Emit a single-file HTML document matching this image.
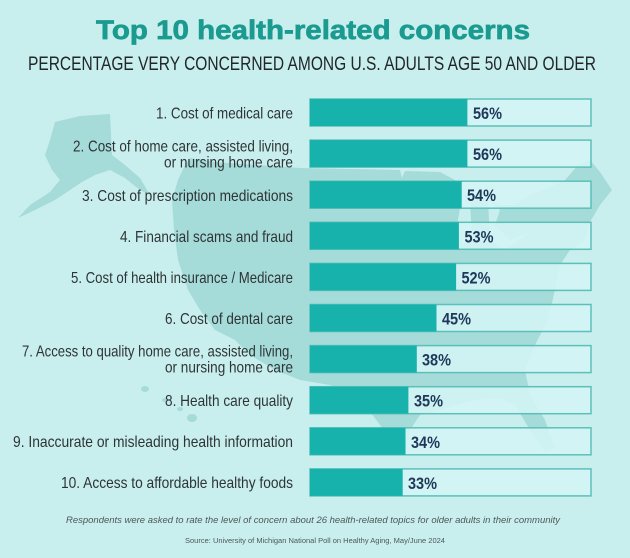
<!DOCTYPE html>
<html>
<head>
<meta charset="utf-8">
<style>
  html,body{margin:0;padding:0;background:#c8efee;}
  svg{display:block;}
  .lbl{font-family:"Liberation Sans",sans-serif;font-size:16px;fill:#2e3435;}
  .pct{font-family:"Liberation Sans",sans-serif;font-size:17px;font-weight:bold;fill:#1d3859;}
</style>
</head>
<body>
<svg width="630" height="558" viewBox="0 0 630 558" xmlns="http://www.w3.org/2000/svg">
  <rect x="0" y="0" width="630" height="558" fill="#c8efee"/>

  <!-- Map silhouette -->
  <g fill="#a5dbd9">
    <polygon points="190,158 215,162 300,168 400,170 402,178 405,171 440,172 455,180 470,190 485,198 500,205 515,205 530,195 548,188 565,180 578,165 590,160 600,172 612,190 600,205 590,222 585,240 570,250 560,265 555,290 548,320 535,345 525,370 530,395 545,420 555,448 545,452 530,430 515,405 500,398 475,400 455,405 440,410 420,415 410,430 405,455 395,445 380,425 365,405 350,395 330,385 300,380 275,370 250,355 235,340 215,330 200,310 188,290 178,260 174,230 172,200 178,180 185,165"/>
    <polygon points="55,122 80,116 110,114 112,155 125,165 140,178 150,195 140,190 125,178 110,170 95,175 82,182 70,190 55,200 35,210 18,218 30,205 50,192 60,180 52,170 45,155 50,140"/>
    <ellipse cx="145" cy="389" rx="4" ry="3"/>
    <ellipse cx="165" cy="400" rx="3" ry="2"/>
    <ellipse cx="180" cy="409" rx="3" ry="2"/>
    <ellipse cx="192" cy="418" rx="5" ry="4"/>
  </g>
  <g fill="#c8efee">
    <polygon points="445,182 490,188 475,198 450,192"/>
    <polygon points="462,195 470,200 472,240 462,245 458,220"/>
    <polygon points="488,200 500,210 495,225 510,240 530,232 505,250 490,240"/>
  </g>

  <!-- Title -->
  <text x="96" y="39" font-family="Liberation Sans, sans-serif" font-size="27" font-weight="bold" fill="#1b9b90" stroke="#1b9b90" stroke-width="0.7" textLength="434" lengthAdjust="spacingAndGlyphs">Top 10 health-related concerns</text>
  <text x="28" y="70" font-family="Liberation Sans, sans-serif" font-size="19" fill="#222627" textLength="568" lengthAdjust="spacingAndGlyphs">PERCENTAGE VERY CONCERNED AMONG U.S. ADULTS AGE 50 AND OLDER</text>

  <!-- Bars -->
  <g stroke="#5cc0ba" stroke-width="1.5">
    <rect x="310" y="99" width="281" height="27" fill="#d5f5f4" fill-opacity="0.85"/>
    <rect x="310" y="140.1" width="281" height="27" fill="#d5f5f4" fill-opacity="0.85"/>
    <rect x="310" y="181.2" width="281" height="27" fill="#d5f5f4" fill-opacity="0.85"/>
    <rect x="310" y="222.3" width="281" height="27" fill="#d5f5f4" fill-opacity="0.85"/>
    <rect x="310" y="263.4" width="281" height="27" fill="#d5f5f4" fill-opacity="0.85"/>
    <rect x="310" y="304.5" width="281" height="27" fill="#d5f5f4" fill-opacity="0.85"/>
    <rect x="310" y="345.6" width="281" height="27" fill="#d5f5f4" fill-opacity="0.85"/>
    <rect x="310" y="386.7" width="281" height="27" fill="#d5f5f4" fill-opacity="0.85"/>
    <rect x="310" y="427.8" width="281" height="27" fill="#d5f5f4" fill-opacity="0.85"/>
    <rect x="310" y="468.9" width="281" height="27" fill="#d5f5f4" fill-opacity="0.85"/>
  </g>
  <g fill="#17b2ab">
    <rect x="310" y="99" width="157.4" height="27"/>
    <rect x="310" y="140.1" width="157.4" height="27"/>
    <rect x="310" y="181.2" width="151.7" height="27"/>
    <rect x="310" y="222.3" width="148.9" height="27"/>
    <rect x="310" y="263.4" width="146.1" height="27"/>
    <rect x="310" y="304.5" width="126.5" height="27"/>
    <rect x="310" y="345.6" width="106.8" height="27"/>
    <rect x="310" y="386.7" width="98.4" height="27"/>
    <rect x="310" y="427.8" width="95.5" height="27"/>
    <rect x="310" y="468.9" width="92.7" height="27"/>
  </g>

  <!-- Percent labels -->
  <text class="pct" x="473" y="119" textLength="29" lengthAdjust="spacingAndGlyphs">56%</text>
  <text class="pct" x="473" y="160.1" textLength="29" lengthAdjust="spacingAndGlyphs">56%</text>
  <text class="pct" x="467" y="201.2" textLength="29" lengthAdjust="spacingAndGlyphs">54%</text>
  <text class="pct" x="464.5" y="242.3" textLength="29" lengthAdjust="spacingAndGlyphs">53%</text>
  <text class="pct" x="461.5" y="283.4" textLength="29" lengthAdjust="spacingAndGlyphs">52%</text>
  <text class="pct" x="442" y="324.5" textLength="29" lengthAdjust="spacingAndGlyphs">45%</text>
  <text class="pct" x="422" y="365.6" textLength="29" lengthAdjust="spacingAndGlyphs">38%</text>
  <text class="pct" x="414" y="406.7" textLength="29" lengthAdjust="spacingAndGlyphs">35%</text>
  <text class="pct" x="411" y="447.8" textLength="29" lengthAdjust="spacingAndGlyphs">34%</text>
  <text class="pct" x="408" y="488.9" textLength="29" lengthAdjust="spacingAndGlyphs">33%</text>

  <!-- Category labels -->
  <text class="lbl" x="156" y="118.5" textLength="137" lengthAdjust="spacingAndGlyphs">1. Cost of medical care</text>
  <text class="lbl" x="73" y="151.5" textLength="220" lengthAdjust="spacingAndGlyphs">2. Cost of home care, assisted living,</text>
  <text class="lbl" x="164" y="167.5" textLength="129" lengthAdjust="spacingAndGlyphs">or nursing home care</text>
  <text class="lbl" x="82" y="201" textLength="211" lengthAdjust="spacingAndGlyphs">3. Cost of prescription medications</text>
  <text class="lbl" x="120" y="242" textLength="173" lengthAdjust="spacingAndGlyphs">4. Financial scams and fraud</text>
  <text class="lbl" x="71" y="283" textLength="222" lengthAdjust="spacingAndGlyphs">5. Cost of health insurance / Medicare</text>
  <text class="lbl" x="165" y="324" textLength="128" lengthAdjust="spacingAndGlyphs">6. Cost of dental care</text>
  <text class="lbl" x="22" y="356.5" textLength="271" lengthAdjust="spacingAndGlyphs">7. Access to quality home care, assisted living,</text>
  <text class="lbl" x="165" y="372.5" textLength="128" lengthAdjust="spacingAndGlyphs">or nursing home care</text>
  <text class="lbl" x="165" y="406" textLength="128" lengthAdjust="spacingAndGlyphs">8. Health care quality</text>
  <text class="lbl" x="13" y="447" textLength="280" lengthAdjust="spacingAndGlyphs">9. Inaccurate or misleading health information</text>
  <text class="lbl" x="61" y="488" textLength="232" lengthAdjust="spacingAndGlyphs">10. Access to affordable healthy foods</text>

  <!-- Footnotes -->
  <text x="66" y="523" font-family="Liberation Sans, sans-serif" font-size="9.5" font-style="italic" fill="#4e5658" textLength="494" lengthAdjust="spacingAndGlyphs">Respondents were asked to rate the level of concern about 26 health-related topics for older adults in their community</text>
  <text x="185" y="543" font-family="Liberation Sans, sans-serif" font-size="7" fill="#4e5658" textLength="260" lengthAdjust="spacingAndGlyphs">Source: University of Michigan National Poll on Healthy Aging, May/June 2024</text>
</svg>
</body>
</html>
